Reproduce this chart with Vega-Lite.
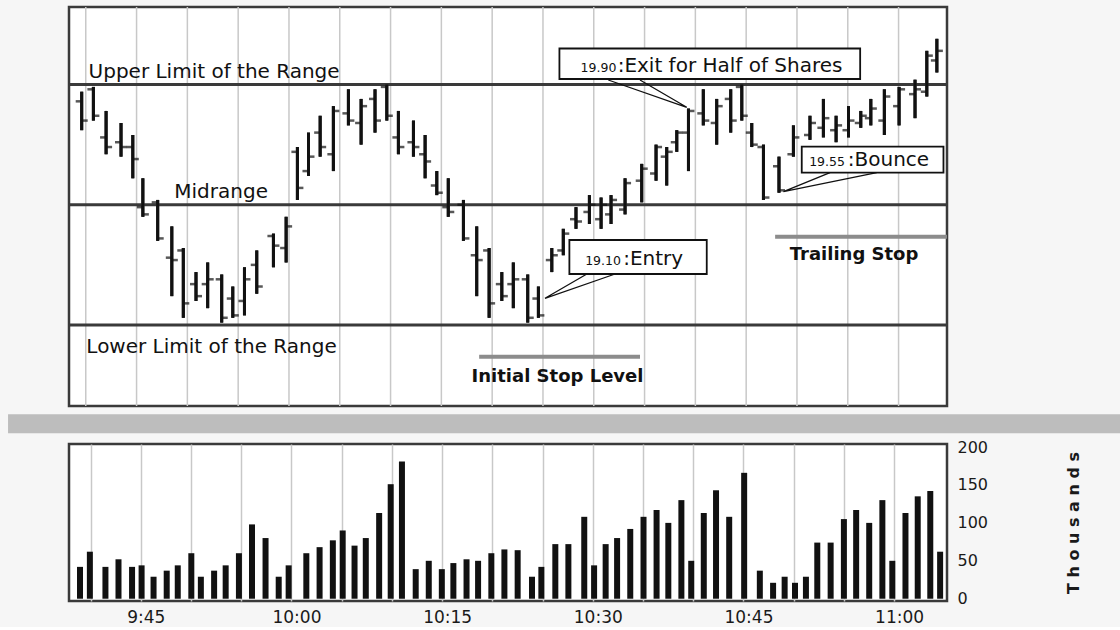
{
  "$schema": "https://vega.github.io/schema/vega-lite/v6.json",
  "background": "#f6f6f6",
  "padding": {"left": 6, "top": 5, "right": 0, "bottom": 0},
  "config": {
    "view": {"fill": "white", "stroke": "#3a3a3a", "strokeWidth": 2.5},
    "font": "DejaVu Sans",
    "axis": {"labelFont": "DejaVu Sans", "labelColor": "#1a1a1a", "labelFontSize": 16, "ticks": false, "domain": false, "grid": false, "gridColor": "#c8c8c8", "gridWidth": 1.5, "titleFont": "DejaVu Sans"}
  },
  "datasets": {
    "prices": [
      {"minute":9.60,"open":19.93,"high":19.97,"low":19.81,"close":19.85},
      {"minute":10.75,"open":19.98,"high":19.99,"low":19.85,"close":19.87},
      {"minute":12.00,"open":19.78,"high":19.89,"low":19.71,"close":19.74},
      {"minute":13.47,"open":19.76,"high":19.84,"low":19.70,"close":19.74},
      {"minute":14.63,"open":19.74,"high":19.79,"low":19.61,"close":19.69},
      {"minute":15.62,"open":19.49,"high":19.61,"low":19.45,"close":19.46},
      {"minute":17.08,"open":19.51,"high":19.52,"low":19.35,"close":19.36},
      {"minute":18.47,"open":19.28,"high":19.41,"low":19.12,"close":19.27},
      {"minute":19.60,"open":19.31,"high":19.32,"low":19.03,"close":19.09},
      {"minute":20.85,"open":19.17,"high":19.22,"low":19.10,"close":19.12},
      {"minute":22.00,"open":19.17,"high":19.26,"low":19.07,"close":19.19},
      {"minute":23.38,"open":19.19,"high":19.21,"low":19.01,"close":19.03},
      {"minute":24.47,"open":19.11,"high":19.16,"low":19.03,"close":19.04},
      {"minute":25.62,"open":19.10,"high":19.24,"low":19.04,"close":19.19},
      {"minute":26.83,"open":19.25,"high":19.31,"low":19.13,"close":19.16},
      {"minute":28.47,"open":19.37,"high":19.38,"low":19.24,"close":19.33},
      {"minute":29.72,"open":19.32,"high":19.45,"low":19.26,"close":19.41},
      {"minute":30.83,"open":19.72,"high":19.74,"low":19.52,"close":19.57},
      {"minute":31.92,"open":19.64,"high":19.80,"low":19.62,"close":19.70},
      {"minute":33.07,"open":19.80,"high":19.87,"low":19.70,"close":19.74},
      {"minute":34.37,"open":19.71,"high":19.91,"low":19.64,"close":19.89},
      {"minute":35.85,"open":19.88,"high":19.98,"low":19.83,"close":19.85},
      {"minute":37.10,"open":19.84,"high":19.94,"low":19.75,"close":19.91},
      {"minute":38.47,"open":19.94,"high":19.98,"low":19.80,"close":19.85},
      {"minute":39.63,"open":19.99,"high":20.00,"low":19.85,"close":19.87},
      {"minute":40.77,"open":19.78,"high":19.89,"low":19.71,"close":19.74},
      {"minute":42.25,"open":19.76,"high":19.85,"low":19.70,"close":19.74},
      {"minute":43.40,"open":19.71,"high":19.79,"low":19.61,"close":19.68},
      {"minute":44.55,"open":19.58,"high":19.64,"low":19.54,"close":19.55},
      {"minute":45.68,"open":19.49,"high":19.61,"low":19.45,"close":19.47},
      {"minute":47.17,"open":19.50,"high":19.52,"low":19.35,"close":19.36},
      {"minute":48.48,"open":19.29,"high":19.41,"low":19.12,"close":19.27},
      {"minute":49.70,"open":19.31,"high":19.32,"low":19.03,"close":19.09},
      {"minute":50.95,"open":19.17,"high":19.22,"low":19.10,"close":19.12},
      {"minute":52.08,"open":19.17,"high":19.26,"low":19.07,"close":19.19},
      {"minute":53.50,"open":19.19,"high":19.21,"low":19.01,"close":19.03},
      {"minute":54.55,"open":19.11,"high":19.16,"low":19.03,"close":19.04},
      {"minute":55.87,"open":19.27,"high":19.32,"low":19.22,"close":19.29},
      {"minute":57.00,"open":19.31,"high":19.40,"low":19.29,"close":19.38},
      {"minute":58.25,"open":19.44,"high":19.49,"low":19.40,"close":19.43},
      {"minute":59.57,"open":19.47,"high":19.54,"low":19.42,"close":19.50},
      {"minute":60.72,"open":19.44,"high":19.53,"low":19.40,"close":19.50},
      {"minute":61.70,"open":19.46,"high":19.54,"low":19.42,"close":19.52},
      {"minute":63.08,"open":19.48,"high":19.61,"low":19.46,"close":19.59},
      {"minute":64.72,"open":19.60,"high":19.67,"low":19.51,"close":19.65},
      {"minute":66.13,"open":19.63,"high":19.75,"low":19.60,"close":19.74},
      {"minute":67.18,"open":19.70,"high":19.74,"low":19.58,"close":19.72},
      {"minute":68.17,"open":19.76,"high":19.81,"low":19.72,"close":19.80},
      {"minute":69.32,"open":19.80,"high":19.90,"low":19.64,"close":19.89},
      {"minute":70.78,"open":19.88,"high":19.98,"low":19.83,"close":19.85},
      {"minute":72.10,"open":19.84,"high":19.94,"low":19.75,"close":19.91},
      {"minute":73.48,"open":19.94,"high":19.98,"low":19.80,"close":19.85},
      {"minute":74.57,"open":19.99,"high":20.00,"low":19.85,"close":19.87},
      {"minute":75.55,"open":19.80,"high":19.84,"low":19.74,"close":19.75},
      {"minute":76.70,"open":19.74,"high":19.75,"low":19.52,"close":19.53},
      {"minute":78.23,"open":19.66,"high":19.70,"low":19.55,"close":19.56},
      {"minute":79.65,"open":19.71,"high":19.83,"low":19.70,"close":19.78},
      {"minute":81.28,"open":19.79,"high":19.87,"low":19.77,"close":19.84},
      {"minute":82.60,"open":19.82,"high":19.94,"low":19.78,"close":19.86},
      {"minute":83.85,"open":19.81,"high":19.87,"low":19.76,"close":19.83},
      {"minute":85.07,"open":19.81,"high":19.91,"low":19.78,"close":19.85},
      {"minute":86.28,"open":19.84,"high":19.89,"low":19.82,"close":19.87},
      {"minute":87.27,"open":19.86,"high":19.94,"low":19.83,"close":19.90},
      {"minute":88.60,"open":19.85,"high":19.98,"low":19.79,"close":19.95},
      {"minute":90.05,"open":19.91,"high":19.99,"low":19.83,"close":19.98},
      {"minute":91.62,"open":19.96,"high":20.02,"low":19.86,"close":19.98},
      {"minute":92.78,"open":19.97,"high":20.14,"low":19.95,"close":20.12},
      {"minute":93.77,"open":20.10,"high":20.19,"low":20.05,"close":20.14}
    ],
    "volume": [
      {"minute":8.95,"vol":42},{"minute":9.93,"vol":62},{"minute":11.48,"vol":42},{"minute":12.78,"vol":52},
      {"minute":14.13,"vol":42},{"minute":15.08,"vol":44},{"minute":16.27,"vol":29},{"minute":17.58,"vol":37},
      {"minute":18.68,"vol":44},{"minute":20.03,"vol":60},{"minute":20.98,"vol":29},{"minute":22.30,"vol":37},
      {"minute":23.45,"vol":44},{"minute":24.77,"vol":60},{"minute":26.07,"vol":98},{"minute":27.42,"vol":80},
      {"minute":28.73,"vol":29},{"minute":29.72,"vol":44},{"minute":31.48,"vol":60},{"minute":32.80,"vol":68},
      {"minute":34.12,"vol":77},{"minute":35.10,"vol":90},{"minute":36.28,"vol":70},{"minute":37.40,"vol":80},
      {"minute":38.73,"vol":113},{"minute":39.88,"vol":151},{"minute":41.00,"vol":181},{"minute":42.37,"vol":39},
      {"minute":43.67,"vol":50},{"minute":44.97,"vol":39},{"minute":46.12,"vol":47},{"minute":47.43,"vol":52},
      {"minute":48.58,"vol":50},{"minute":49.90,"vol":60},{"minute":51.20,"vol":65},{"minute":52.52,"vol":64},
      {"minute":53.95,"vol":29},{"minute":54.88,"vol":42},{"minute":56.27,"vol":72},{"minute":57.57,"vol":72},
      {"minute":59.15,"vol":108},{"minute":60.13,"vol":44},{"minute":61.28,"vol":72},{"minute":62.42,"vol":80},
      {"minute":63.73,"vol":92},{"minute":65.05,"vol":108},{"minute":66.35,"vol":117},{"minute":67.52,"vol":100},
      {"minute":68.82,"vol":130},{"minute":69.80,"vol":50},{"minute":71.05,"vol":113},{"minute":72.27,"vol":143},
      {"minute":73.58,"vol":108},{"minute":75.07,"vol":166},{"minute":76.63,"vol":37},{"minute":77.95,"vol":21},
      {"minute":79.10,"vol":29},{"minute":80.13,"vol":21},{"minute":81.22,"vol":29},{"minute":82.35,"vol":74},
      {"minute":83.68,"vol":74},{"minute":85.00,"vol":105},{"minute":86.22,"vol":117},{"minute":87.52,"vol":100},
      {"minute":88.83,"vol":130},{"minute":89.82,"vol":50},{"minute":91.13,"vol":113},{"minute":92.35,"vol":135},
      {"minute":93.60,"vol":142},{"minute":94.58,"vol":62}
    ],
    "timeGrid": [
      {"minute":10},{"minute":15},{"minute":20},{"minute":25},{"minute":30},{"minute":35},{"minute":40},{"minute":45},{"minute":50},
      {"minute":55},{"minute":60},{"minute":65},{"minute":70},{"minute":75},{"minute":80},{"minute":85},{"minute":90}
    ],
    "levels": [{"price":20.0},{"price":19.5},{"price":19.0}],
    "stops": [
      {"start":48.72,"end":64.55,"price":18.868},
      {"start":77.85,"end":94.7667,"price":19.367}
    ],
    "notes": [
      {"minute":22.63,"price":20.026,"text":"Upper Limit of the Range","kind":"level"},
      {"minute":23.32,"price":19.527,"text":"Midrange","kind":"level"},
      {"minute":22.38,"price":18.882,"text":"Lower Limit of the Range","kind":"level"},
      {"minute":56.43,"price":18.764,"text":"Initial Stop Level","kind":"stop"},
      {"minute":85.62,"price":19.270,"text":"Trailing Stop","kind":"stop"}
    ],
    "callouts": [
      {"id":"exit","boxStart":56.62,"boxEnd":86.22,"boxTop":20.1497,"boxBottom":20.0229,"num":"19.90","numAt":58.70,"label":":Exit for Half of Shares","labelAt":62.35,"textPrice":20.0532},
      {"id":"entry","boxStart":57.60,"boxEnd":71.12,"boxTop":19.3534,"boxBottom":19.2121,"num":"19.10","numAt":59.15,"label":":Entry","labelAt":62.90,"textPrice":19.2495},
      {"id":"bounce","boxStart":80.47,"boxEnd":94.42,"boxTop":19.7414,"boxBottom":19.6333,"num":"19.55","numAt":81.20,"label":":Bounce","labelAt":85.00,"textPrice":19.6624}
    ],
    "tails": [
      {"id":"exit","seq":1,"minute":61.43,"price":20.0187},
      {"id":"exit","seq":2,"minute":69.15,"price":19.9052},
      {"id":"exit","seq":3,"minute":64.55,"price":20.0187},
      {"id":"entry","seq":1,"minute":59.32,"price":19.2121},
      {"id":"entry","seq":2,"minute":55.20,"price":19.1110},
      {"id":"entry","seq":3,"minute":62.10,"price":19.2121},
      {"id":"bounce","seq":1,"minute":83.25,"price":19.6333},
      {"id":"bounce","seq":2,"minute":78.67,"price":19.5543},
      {"id":"bounce","seq":3,"minute":87.85,"price":19.6333}
    ],
    "band": [{"start":2.35,"end":111.8,"top":18.6287,"bottom":18.5497}]
  },
  "spacing": 38,
  "bounds": "flush",
  "vconcat": [
    {
      "width": 878,
      "height": 399,
      "layer": [
        {
          "data": {"name": "timeGrid"},
          "mark": {"type": "rule", "color": "#c8c8c8", "strokeWidth": 1.5},
          "encoding": {
            "x": {"field": "minute", "type": "quantitative",
                  "scale": {"domain": [8.35, 94.7667], "nice": false, "zero": false},
                  "axis": null}
          }
        },
        {
          "data": {"name": "prices"},
          "mark": {"type": "rule", "color": "#111111", "strokeWidth": 3},
          "encoding": {
            "x": {"field": "minute", "type": "quantitative", "axis": null},
            "y": {"field": "low", "type": "quantitative",
                  "scale": {"domain": [18.66321, 20.32225], "nice": false, "zero": false},
                  "axis": {"orient": "right", "values": [18.9, 19.0, 19.4, 19.5, 19.9, 20.0], "format": ".2f", "labelPadding": 6, "title": null}},
            "y2": {"field": "high"}
          }
        },
        {
          "data": {"name": "band"},
          "mark": {"type": "rect", "color": "#bdbdbd", "clip": false},
          "encoding": {
            "x": {"field": "start", "type": "quantitative", "axis": null},
            "x2": {"field": "end"},
            "y": {"field": "top", "type": "quantitative", "axis": null},
            "y2": {"field": "bottom"}
          }
        },
        {
          "data": {"name": "levels"},
          "mark": {"type": "rule", "color": "#3a3a3a", "strokeWidth": 3},
          "encoding": {"y": {"field": "price", "type": "quantitative", "axis": null}}
        },
        {
          "data": {"name": "stops"},
          "mark": {"type": "rule", "color": "#8c8c8c", "strokeWidth": 4},
          "encoding": {
            "x": {"field": "start", "type": "quantitative", "axis": null},
            "x2": {"field": "end"},
            "y": {"field": "price", "type": "quantitative", "axis": null}
          }
        },
        {
          "data": {"name": "prices"},
          "mark": {"type": "rule", "color": "#111111", "strokeWidth": 3},
          "encoding": {
            "x": {"field": "minute", "type": "quantitative", "axis": null},
            "y": {"field": "low", "type": "quantitative", "axis": null},
            "y2": {"field": "high"}
          }
        },
        {
          "data": {"name": "prices"},
          "mark": {"type": "tick", "orient": "horizontal", "color": "#111111", "size": 6, "thickness": 2.5, "xOffset": -3},
          "encoding": {
            "x": {"field": "minute", "type": "quantitative", "axis": null},
            "y": {"field": "open", "type": "quantitative", "axis": null}
          }
        },
        {
          "data": {"name": "prices"},
          "mark": {"type": "tick", "orient": "horizontal", "color": "#111111", "size": 6, "thickness": 2.5, "xOffset": 3},
          "encoding": {
            "x": {"field": "minute", "type": "quantitative", "axis": null},
            "y": {"field": "close", "type": "quantitative", "axis": null}
          }
        },
        {
          "data": {"name": "tails"},
          "mark": {"type": "line", "color": "#111111", "strokeWidth": 1.3},
          "encoding": {
            "x": {"field": "minute", "type": "quantitative", "axis": null},
            "y": {"field": "price", "type": "quantitative", "axis": null},
            "detail": {"field": "id"},
            "order": {"field": "seq"}
          }
        },
        {
          "data": {"name": "callouts"},
          "mark": {"type": "rect", "fill": "white", "stroke": "#111111", "strokeWidth": 1.8},
          "encoding": {
            "x": {"field": "boxStart", "type": "quantitative", "axis": null},
            "x2": {"field": "boxEnd"},
            "y": {"field": "boxTop", "type": "quantitative", "axis": null},
            "y2": {"field": "boxBottom"}
          }
        },
        {
          "data": {"name": "callouts"},
          "mark": {"type": "text", "align": "left", "baseline": "alphabetic", "font": "DejaVu Sans", "fontSize": 12.5, "color": "#111111"},
          "encoding": {
            "x": {"field": "numAt", "type": "quantitative", "axis": null},
            "y": {"field": "textPrice", "type": "quantitative", "axis": null},
            "text": {"field": "num"}
          }
        },
        {
          "data": {"name": "callouts"},
          "mark": {"type": "text", "align": "left", "baseline": "alphabetic", "font": "DejaVu Sans", "fontSize": 20, "color": "#111111"},
          "encoding": {
            "x": {"field": "labelAt", "type": "quantitative", "axis": null},
            "y": {"field": "textPrice", "type": "quantitative", "axis": null},
            "text": {"field": "label"}
          }
        },
        {
          "data": {"name": "notes"},
          "transform": [{"filter": "datum.kind === 'level'"}],
          "mark": {"type": "text", "align": "center", "baseline": "alphabetic", "font": "DejaVu Sans", "fontSize": 20, "color": "#111111"},
          "encoding": {
            "x": {"field": "minute", "type": "quantitative", "axis": null},
            "y": {"field": "price", "type": "quantitative", "axis": null},
            "text": {"field": "text"}
          }
        },
        {
          "data": {"name": "notes"},
          "transform": [{"filter": "datum.kind === 'stop'"}],
          "mark": {"type": "text", "align": "center", "baseline": "alphabetic", "font": "DejaVu Sans", "fontSize": 18, "fontWeight": "bold", "color": "#111111"},
          "encoding": {
            "x": {"field": "minute", "type": "quantitative", "axis": null},
            "y": {"field": "price", "type": "quantitative", "axis": null},
            "text": {"field": "text"}
          }
        }
      ]
    },
    {
      "width": 878,
      "height": 157,
      "data": {"name": "volume"},
      "mark": {"type": "bar", "width": 6, "color": "#111111", "clip": true},
      "encoding": {
        "x": {"field": "minute", "type": "quantitative",
              "scale": {"domain": [8.35, 94.7667], "nice": false, "zero": false},
              "axis": {"orient": "bottom", "grid": true, "title": null, "values": [10,15,20,25,30,35,40,45,50,55,60,65,70,75,80,85,90],
                       "labelExpr": "datum.value % 15 === 0 ? floor((570 + datum.value) / 60) + ':' + (((570 + datum.value) % 60) < 10 ? '0' : '') + ((570 + datum.value) % 60) : ''",
                       "labelOverlap": false, "labelFlush": false, "labelPadding": 8, "labelOffset": 5, "labelFontSize": 17}},
        "y": {"field": "vol", "type": "quantitative",
              "scale": {"domain": [-3, 204], "nice": false, "zero": false},
              "axis": {"orient": "right", "values": [0, 50, 100, 150, 200], "labelPadding": 10,
                       "title": "T h o u s a n d s", "titleAngle": 270, "titleFontSize": 16, "titleFontWeight": "bold", "titleColor": "#1a1a1a", "titlePadding": 94}}
      }
    }
  ]
}
